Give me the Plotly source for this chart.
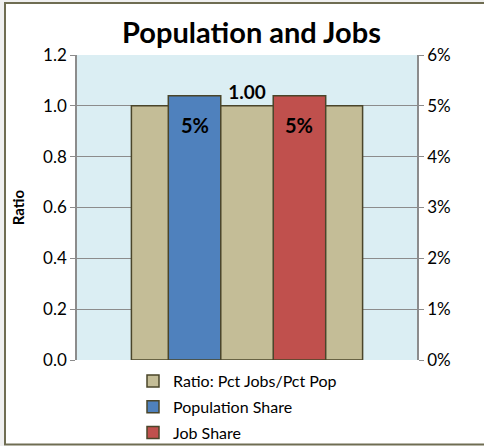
import plotly.graph_objects as go

# Data
region = ["Region"]
ratio_values = [1.00]
share_names = ["Population Share", "Job Share"]
share_values = [0.052, 0.052]
ratio_ticks = [0.0, 0.2, 0.4, 0.6, 0.8, 1.0, 1.2]
pct_ticks = [0.00, 0.01, 0.02, 0.03, 0.04, 0.05, 0.06]

FONT = "Lato"
TAN = "#C4BD97"
BLUE = "#4F81BD"
RED = "#C0504D"
EDGE = "#4A452A"
GRID = "#8C8C8C"

W, H = 484, 446
ML, MR, MT, MB = 77, 67, 55, 86
PW, PH = W - ML - MR, H - MT - MB


def px(x):
    return (x - ML) / PW


def py(y):
    return (H - MB - y) / PH


fig = go.Figure()

fig.add_trace(go.Bar(
    x=region, y=ratio_values, name="Ratio: Pct Jobs/Pct Pop",
    marker=dict(color=TAN, line=dict(color=EDGE, width=1.5)),
    width=0.68, xaxis="x", yaxis="y",
    text=[f"{v:.2f}" for v in ratio_values], textposition="outside",
    textfont=dict(family=FONT, size=19, color="black", weight="bold"),
    cliponaxis=False, legendgroup="a",
))

for name, val, col, grp in zip(share_names, share_values, [BLUE, RED], ["b", "c"]):
    fig.add_trace(go.Bar(
        x=[name], y=[val], name=name,
        marker=dict(color=col, line=dict(color=EDGE, width=1.5)),
        width=0.5, xaxis="x2", yaxis="y2", legendgroup=grp,
    ))
    fig.add_annotation(
        x=name, y=val, xref="x2", yref="y2", text=f"<b>{val:.0%}</b>",
        showarrow=False, yanchor="top", yshift=-15,
        font=dict(family=FONT, size=20, color="black"),
    )

# Chart frame
fig.add_shape(type="rect", xref="paper", yref="paper", x0=px(-5), x1=px(4),
              y0=py(450), y1=py(-5), fillcolor="#F0F0F0", line_width=0, layer="above")
fig.add_shape(type="rect", xref="paper", yref="paper", x0=px(-5), x1=px(490),
              y0=py(2), y1=py(-5), fillcolor="#F0F0F0", line_width=0, layer="above")
fig.add_shape(type="rect", xref="paper", yref="paper", x0=px(5), x1=px(495),
              y0=py(444.5), y1=py(3), line=dict(color="#6F6D52", width=2),
              fillcolor="rgba(0,0,0,0)", layer="above")

fig.update_layout(
    width=W, height=H,
    margin=dict(l=ML, r=MR, t=MT, b=MB, autoexpand=False),
    paper_bgcolor="white", plot_bgcolor="#DBEEF3",
    barmode="overlay", hovermode=False,
    font=dict(family=FONT, color="black"),
    title=dict(text="<b>Population and Jobs</b>", x=251.5 / W, xanchor="center",
               y=1 - 33 / H, yanchor="middle",
               font=dict(family=FONT, size=29, color="black")),
    xaxis=dict(range=[-0.5, 0.5], showticklabels=False, showgrid=False,
               zeroline=False, fixedrange=True),
    xaxis2=dict(overlaying="x", range=[-1.12, 2.12], visible=False,
                categoryorder="array", categoryarray=share_names),
    yaxis=dict(range=[0, 1.2], tickvals=ratio_ticks, tickformat=".1f",
               showgrid=True, gridcolor=GRID, gridwidth=1,
               showline=True, linecolor=GRID, linewidth=1.5,
               ticks="outside", ticklen=5, tickcolor=GRID,
               zeroline=False,
               tickfont=dict(family=FONT, size=17),
               title=dict(text="<b>Ratio</b>", standoff=15,
                          font=dict(family=FONT, size=15))),
    yaxis2=dict(range=[0, 0.06], tickvals=pct_ticks, tickformat=".0%",
                overlaying="y", side="right", showgrid=False,
                showline=True, linecolor=GRID, linewidth=1.5,
                ticks="outside", ticklen=5, tickcolor=GRID,
                zeroline=False, tickfont=dict(family=FONT, size=17)),
    legend=dict(x=px(133), y=py(364), xanchor="left", yanchor="top",
                bgcolor="rgba(0,0,0,0)", tracegroupgap=2,
                font=dict(family=FONT, size=16), itemwidth=30),
    showlegend=True,
)

fig.write_html("out.html")
